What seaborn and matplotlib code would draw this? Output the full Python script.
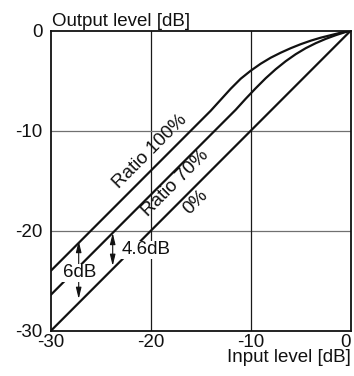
import pandas as pd
import matplotlib
matplotlib.use("Agg")
import matplotlib.pyplot as plt
import seaborn as sns

# -------- curve data --------
IN_100 = [-30, -16, -14, -13, -12, -11, -10, -9, -8, -7, -6, -5, -4, -3, -2, -1, 0]
OUT_100 = [-24, -10, -8, -6.9, -5.8, -4.8, -4.0, -3.3, -2.7, -2.2, -1.75, -1.35, -1.0, -0.7, -0.45, -0.2, 0]
IN_70 = [-30, -11.5, -10.5, -9.5, -8.5, -7.5, -6.5, -5.5, -4.5, -3.5, -2.5, -1.5, -0.5, 0]
OUT_70 = [-26.4, -7.9, -6.8, -5.75, -4.75, -3.85, -3.05, -2.35, -1.75, -1.25, -0.82, -0.45, -0.13, 0]
IN_0 = [-30, 0]
OUT_0 = [-30, 0]

TICKS = [-30, -20, -10, 0]
GRID = [-20, -10]

def build_df():
    parts = []
    for name, xs, ys in [("100", IN_100, OUT_100), ("70", IN_70, OUT_70), ("0", IN_0, OUT_0)]:
        parts.append(pd.DataFrame({"input": xs, "output": ys, "ratio": name}))
    return pd.concat(parts, ignore_index=True)

sns.set_style("white")
plt.rcParams["font.family"] = ["Liberation Sans", "DejaVu Sans"]
plt.rcParams["font.size"] = 13.5

fig = plt.figure(figsize=(3.54, 3.76), dpi=100)
ax = fig.add_axes([0.1432, 0.1197, 0.8475, 0.7987])

# grid lines first so curves sit on top
for g in GRID:
    ax.axhline(g, color="#707070", lw=0.9, zorder=1)
    ax.axvline(g, color="#1a1a1a", lw=0.9, zorder=1)

df = build_df()
sns.lineplot(data=df, x="input", y="output", units="ratio", estimator=None,
             color="#111111", lw=1.6, sort=False, ax=ax, zorder=2)

ax.set_xlim(-30, 0)
ax.set_ylim(-30, 0)
ax.set_xticks(TICKS)
ax.set_yticks(TICKS)
ax.set_xticklabels([str(t) for t in TICKS])
ax.set_yticklabels([str(t) for t in TICKS])
ax.tick_params(length=0, labelsize=13.5, colors="#111111")
ax.tick_params(axis="y", pad=6)
ax.tick_params(axis="x", pad=2.5)
ax.get_xticklabels()[-1].set_horizontalalignment("right")
ax.set_xlabel("")
ax.set_ylabel("")
for s in ax.spines.values():
    s.set_color("#111111")
    s.set_linewidth(1.3)

# axis titles
ax.text(0.003, 1.017, "Output level [dB]", transform=ax.transAxes,
        ha="left", va="baseline", fontsize=13.5, color="#111111")
ax.text(1.0, -0.103, "Input level [dB]", transform=ax.transAxes,
        ha="right", va="baseline", fontsize=13.5, color="#111111")

# rotated curve labels
ax.text(-20.1, -12.1, "Ratio 100%", rotation=45, ha="center", va="center",
        rotation_mode="anchor", fontsize=13.5, color="#111111")
ax.text(-17.5, -15.2, "Ratio 70%", rotation=45, ha="center", va="center",
        rotation_mode="anchor", fontsize=13.5, color="#111111")
ax.text(-15.5, -17.1, "0%", rotation=45, ha="center", va="center",
        rotation_mode="anchor", fontsize=13.5, color="#111111")

# difference arrows
arrow = dict(arrowstyle="<|-|>,head_length=0.5,head_width=0.12", color="#111111", lw=0.8,
             shrinkA=0, shrinkB=0)
ax.annotate("", xy=(-27.2, -21.0), xytext=(-27.2, -26.8), arrowprops=arrow, zorder=3)
ax.annotate("", xy=(-23.8, -20.2), xytext=(-23.8, -23.5), arrowprops=arrow, zorder=3)

box = dict(facecolor="white", edgecolor="none", pad=0.5)
ax.text(-27.1, -24.2, "6dB", ha="center", va="center", fontsize=13.5,
        color="#111111", bbox=box, zorder=4)
ax.text(-20.5, -21.9, "4.6dB", ha="center", va="center", fontsize=13.5,
        color="#111111", bbox=box, zorder=4)

plt.savefig("out.png", dpi=100)
